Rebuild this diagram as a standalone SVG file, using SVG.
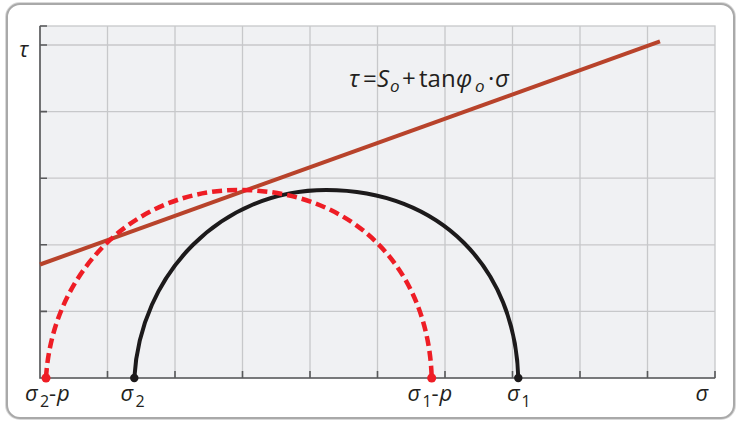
<svg xmlns="http://www.w3.org/2000/svg" width="738" height="422" viewBox="0 0 738 422">
<style>
.grid{stroke:#c7c8ca;stroke-width:1.3;fill:none}
.axis{stroke:#58595b;stroke-width:1.6;fill:none}
.t{font-family:"Open Sans","Noto Sans","DejaVu Sans",sans-serif;fill:#231f20}
.it{font-style:italic}
.main{font-size:24px}
.lab{font-size:22px}
.sub{font-size:16px}
.sub2{font-size:17px}
</style>
<defs>
<path id="semi" d="M0,0 C6,-104 86,-188 192,-188 C305.7,-188 381,-110 384,0"/>
</defs>
<rect x="7" y="4" width="727" height="414" rx="13" ry="13" fill="#ffffff" stroke="#d9d9d9" stroke-width="4"/>
<rect x="7" y="4" width="727" height="414" rx="13" ry="13" fill="#ffffff" stroke="#a9a9a9" stroke-width="2"/>
<g id="plot">
<rect x="40" y="26" width="675" height="352" fill="#f0f1f3" stroke="#c7c8ca" stroke-width="1.3"/>
<path class="grid" d="M107.5,26V378M175,26V378M242.5,26V378M310,26V378M377.5,26V378M445,26V378M512.5,26V378M580,26V378M647.5,26V378M40,45H715M40,111.6H715M40,178.2H715M40,244.8H715M40,311.4H715"/>
<path class="axis" d="M40,26V378H715"/>
<path class="axis" d="M40,26H47M40,45H47M40,111.6H47M40,178.2H47M40,244.8H47M40,311.4H47M107.5,378V371M175,378V371M242.5,378V371M310,378V371M377.5,378V371M445,378V371M512.5,378V371M580,378V371M647.5,378V371M715,378V371"/>
</g>
<g id="connectors">
<path id="envelope" d="M40,264.5L660,41.3" stroke="#b8432b" stroke-width="4" fill="none"/>
<use id="circle-total" href="#semi" transform="translate(134.3,378)" fill="none" stroke="#1c1a1b" stroke-width="4"/>
<use id="circle-effective" href="#semi" transform="translate(46,378) scale(1.0044,1)" fill="none" stroke="#ee1d25" stroke-width="4.5" stroke-dasharray="10 5"/>
</g>
<g id="p-s2p"><circle cx="46" cy="378" r="4.5" fill="#ee1d25"/></g>
<g id="p-s2"><circle cx="134.3" cy="378" r="4.2" fill="#1c1a1b"/></g>
<g id="p-s1p"><circle cx="431.7" cy="378" r="4.5" fill="#ee1d25"/></g>
<g id="p-s1"><circle cx="518.3" cy="378" r="4.2" fill="#1c1a1b"/></g>
<g id="labels">
<text class="t lab it" x="19" y="57">τ</text>
<text class="t main" y="87"><tspan class="it" x="349">τ</tspan><tspan x="363">=</tspan><tspan class="it" x="377">S</tspan><tspan class="it sub2" x="390" y="92">o</tspan><tspan x="402" y="87">+</tspan><tspan x="419">tan</tspan><tspan class="it" x="456">φ</tspan><tspan class="it sub2" x="475" y="92">o</tspan><tspan x="488" y="87">·</tspan><tspan class="it" x="495">σ</tspan></text>
<text class="t lab" y="400.5"><tspan class="it" x="25">σ</tspan><tspan class="sub" x="40" y="407">2</tspan><tspan x="49" y="400.5">-</tspan><tspan class="it" x="57">p</tspan></text>
<text class="t lab" y="400.5"><tspan class="it" x="120.5">σ</tspan><tspan class="sub" x="135.5" y="407">2</tspan></text>
<text class="t lab" y="400.5"><tspan class="it" x="407.5">σ</tspan><tspan class="sub" x="422.5" y="407">1</tspan><tspan x="431.5" y="400.5">-</tspan><tspan class="it" x="439.5">p</tspan></text>
<text class="t lab" y="400.5"><tspan class="it" x="507">σ</tspan><tspan class="sub" x="521.5" y="407">1</tspan></text>
<text class="t lab it" x="695.5" y="400.5">σ</text>
</g>
</svg>
